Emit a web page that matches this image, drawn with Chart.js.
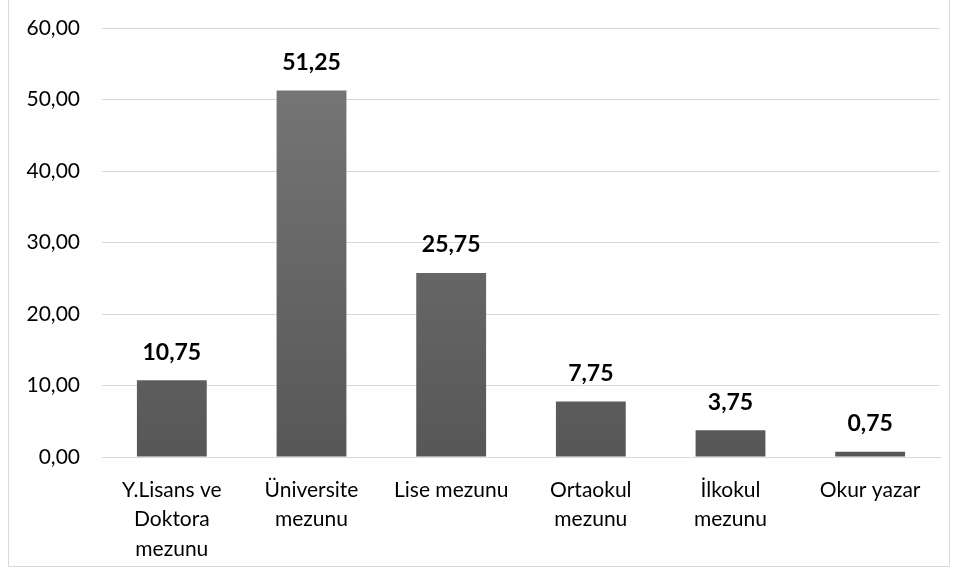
<!DOCTYPE html>
<html>
<head>
<meta charset="utf-8">
<script src="https://cdn.jsdelivr.net/npm/chart.js@4"></script>
<style>
  body { margin: 0; background: #fff; }
  #frame { position: absolute; left: 8px; top: -1px; width: 940px; height: 566px; border: 1px solid #d9d9d9; }
  #wrap { position: absolute; left: 0; top: 0; width: 958px; height: 578px; }
</style>
</head>
<body>
<div id="frame"></div>
<div id="wrap"><canvas id="myChart"></canvas></div>
<script>
const categories = [
  ['Y.Lisans ve', 'Doktora', 'mezunu'],
  ['Üniversite', 'mezunu'],
  'Lise mezunu',
  ['Ortaokul', 'mezunu'],
  ['İlkokul', 'mezunu'],
  'Okur yazar'
];
const values = [10.75, 51.25, 25.75, 7.75, 3.75, 0.75];
const yTicks = [0, 10, 20, 30, 40, 50, 60];

const fmt = v => v.toFixed(2).replace('.', ',');
const FONT = 'Lato, "Open Sans", sans-serif';

// labels over each bar
const barLabels = {
  id: 'barLabels',
  afterDatasetsDraw(chart) {
    const ctx = chart.ctx;
    const meta = chart.getDatasetMeta(0);
    ctx.save();
    ctx.font = 'bold 23px ' + FONT;
    ctx.fillStyle = '#000';
    ctx.textAlign = 'center';
    ctx.textBaseline = 'middle';
    meta.data.forEach((bar, i) => {
      ctx.fillText(fmt(values[i]), bar.x, bar.y - 28);
    });
    ctx.restore();
  }
};

const ctx = document.getElementById('myChart').getContext('2d');
const chart = new Chart(ctx, {
  type: 'bar',
  data: {
    labels: categories,
    datasets: [{
      data: values,
      backgroundColor: function(c) {
        const area = c.chart.chartArea;
        if (!area) return '#666';
        const g = c.chart.ctx.createLinearGradient(0, area.top, 0, area.bottom);
        g.addColorStop(0, '#7a7a7a');
        g.addColorStop(1, '#575757');
        return g;
      },
      borderWidth: 0,
      barPercentage: 0.5,
      categoryPercentage: 1
    }]
  },
  options: {
    responsive: true,
    maintainAspectRatio: false,
    animation: false,
    layout: { padding: { top: 28, right: 18, left: 0, bottom: 0 } },
    plugins: { legend: { display: false }, tooltip: { enabled: false } },
    scales: {
      x: {
        grid: { display: false, drawTicks: false },
        border: { color: '#d9d9d9', width: 1 },
        ticks: { color: '#000', font: { family: FONT, size: 21, lineHeight: 1.41 }, padding: 18, maxRotation: 0, autoSkip: false },
        afterFit: s => { s.height = 121; }
      },
      y: {
        min: 0,
        max: 60,
        afterBuildTicks: s => { s.ticks = yTicks.map(v => ({ value: v })); },
        grid: { color: '#d9d9d9', drawTicks: false, lineWidth: 1 },
        border: { display: false },
        ticks: { color: '#000', font: { family: FONT, size: 21, lineHeight: 0.5 }, padding: 22, callback: v => fmt(v) },
        afterFit: s => { s.width = 102; }
      }
    }
  },
  plugins: [barLabels]
});
</script>
</body>
</html>
